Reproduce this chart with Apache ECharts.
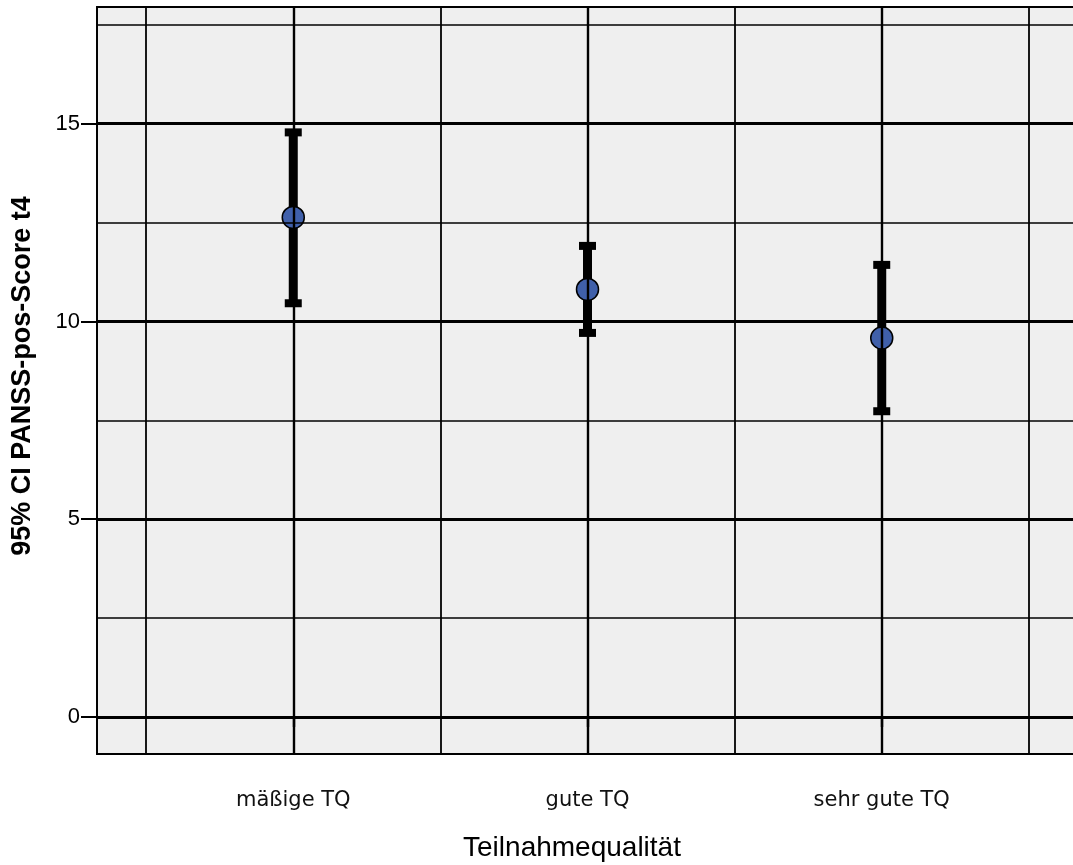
<!DOCTYPE html>
<html>
<head>
<meta charset="utf-8">
<script src="https://cdn.jsdelivr.net/npm/echarts@6/dist/echarts.min.js"></script>
<style>
  html, body { margin: 0; padding: 0; background: #fff; overflow: hidden; }
  #chart { width: 1090px; height: 865px; }
</style>
</head>
<body>
<div id="chart"></div>
<script>
// Group labels and 95% confidence intervals of the PANSS positive score at t4
const categories = ['mäßige TQ', 'gute TQ', 'sehr gute TQ'];
const means = [12.63, 10.81, 9.58];
const ciLower = [10.46, 9.71, 7.73];
const ciUpper = [14.78, 11.91, 11.43];

// Axis ticks and reference lines
const yTickValues = [0, 5, 10, 15];
const yMinorLines = [2.5, 7.5, 12.5, 17.5];
const xCategoryLines = [1, 2, 3];
const xMinorLines = [0.5, 1.5, 2.5, 3.5];

const FONT = '"Liberation Sans", Arial, sans-serif';

const gridLines = [];
yTickValues.forEach(v => gridLines.push({ yAxis: v, lineStyle: { width: 3, type: 'solid', color: '#000' } }));
yMinorLines.forEach(v => gridLines.push({ yAxis: v, lineStyle: { width: 1.6, type: 'solid', color: '#000' } }));
xCategoryLines.forEach(v => gridLines.push({ xAxis: v, lineStyle: { width: 2.4, type: 'solid', color: '#000' } }));
xMinorLines.forEach(v => gridLines.push({ xAxis: v, lineStyle: { width: 1.8, type: 'solid', color: '#000' } }));

const ciData = categories.map((c, i) => [i + 1, ciLower[i], ciUpper[i]]);
const meanData = categories.map((c, i) => [i + 1, means[i]]);

const chart = echarts.init(document.getElementById('chart'));
chart.setOption({
  animation: false,
  backgroundColor: '#ffffff',
  grid: {
    left: 97, top: 7, width: 981, height: 747,
    show: true,
    backgroundColor: '#efefef',
    borderColor: '#000',
    borderWidth: 1.8
  },
  xAxis: {
    type: 'value',
    min: 0.333,
    max: 3.667,
    axisLine: { show: true, lineStyle: { color: '#000', width: 1.8 } },
    axisTick: { show: true, customValues: xCategoryLines, length: 10, lineStyle: { color: '#000', width: 2.4 } },
    axisLabel: {
      customValues: xCategoryLines,
      formatter: v => categories[Math.round(v) - 1],
      margin: 36,
      color: '#111',
      fontFamily: '"DejaVu Sans", sans-serif',
      fontSize: 21
    },
    splitLine: { show: false }
  },
  yAxis: {
    type: 'value',
    min: -0.936,
    max: 17.95,
    axisLine: { show: true, lineStyle: { color: '#000', width: 1.8 } },
    axisTick: { show: true, customValues: yTickValues, length: 16, lineStyle: { color: '#000', width: 2 } },
    axisLabel: {
      customValues: yTickValues,
      margin: 17,
      color: '#000',
      fontFamily: FONT,
      fontSize: 22
    },
    splitLine: { show: false }
  },
  graphic: [
    {
      type: 'text',
      x: 572, y: 848,
      style: {
        text: 'Teilnahmequalität',
        font: '28px ' + FONT,
        fill: '#000',
        textAlign: 'center',
        textVerticalAlign: 'middle'
      }
    },
    {
      type: 'text',
      x: 23, y: 376,
      rotation: Math.PI / 2,
      style: {
        text: '95% CI PANSS-pos-Score t4',
        font: 'bold 27px ' + FONT,
        fill: '#000',
        textAlign: 'center',
        textVerticalAlign: 'middle'
      }
    }
  ],
  series: [
    {
      // reference grid drawn through the axis scales
      type: 'line',
      data: [],
      z: 1,
      silent: true,
      markLine: {
        silent: true,
        animation: false,
        symbol: ['none', 'none'],
        label: { show: false },
        emphasis: { disabled: true },
        data: gridLines
      }
    },
    {
      type: 'custom',
      z: 3,
      data: ciData,
      encode: { x: 0, y: [1, 2] },
      renderItem: function (params, api) {
        const x = api.value(0);
        const pLo = api.coord([x, api.value(1)]);
        const pHi = api.coord([x, api.value(2)]);
        const stemW = 9, capW = 17, capH = 8;
        return {
          type: 'group',
          children: [
            { type: 'rect', shape: { x: pHi[0] - stemW / 2, y: pHi[1], width: stemW, height: pLo[1] - pHi[1] }, style: { fill: '#000' } },
            { type: 'rect', shape: { x: pHi[0] - capW / 2, y: pHi[1] - capH / 2, width: capW, height: capH }, style: { fill: '#000' } },
            { type: 'rect', shape: { x: pLo[0] - capW / 2, y: pLo[1] - capH / 2, width: capW, height: capH }, style: { fill: '#000' } }
          ]
        };
      }
    },
    {
      type: 'scatter',
      z: 4,
      data: meanData,
      symbol: 'circle',
      symbolSize: 22,
      itemStyle: { color: '#4060aa', borderColor: '#000', borderWidth: 1.5, opacity: 1 }
    }
  ]
});
</script>
</body>
</html>
